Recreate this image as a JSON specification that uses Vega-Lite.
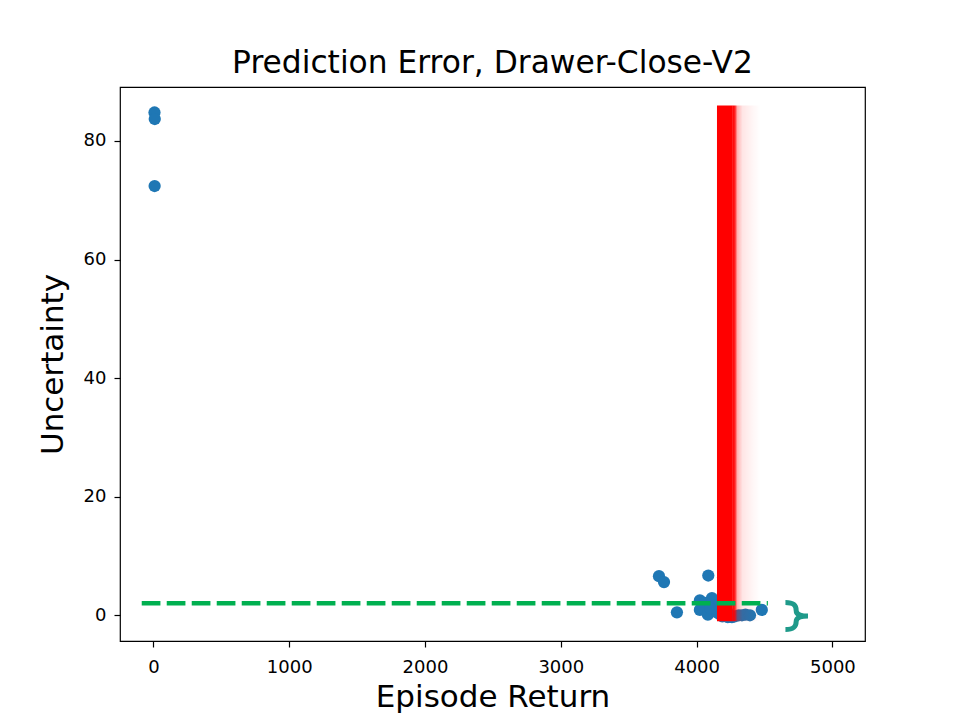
{
  "$schema": "https://vega.github.io/schema/vega-lite/v6.json",
  "autosize": "none",
  "width": 745,
  "height": 554,
  "padding": {"left": 120, "top": 87, "right": 95, "bottom": 80},
  "background": "white",
  "title": {"text": "Prediction Error, Drawer-Close-V2", "font": "DejaVu Sans", "fontSize": 31.3, "fontWeight": "normal", "color": "black", "baseline": "alphabetic", "offset": -17, "anchor": "middle"},
  "config": {
    "view": {"stroke": "black", "strokeWidth": 1.2},
    "axis": {"grid": false, "domain": false, "tickColor": "black", "tickSize": 6, "tickWidth": 1.2, "labelColor": "black", "labelFont": "DejaVu Sans", "labelFontSize": 18, "labelPadding": 8, "titleFont": "DejaVu Sans", "titleFontSize": 31, "titleFontWeight": "normal", "titleColor": "black"}
  },
  "datasets": {
    "points": [
      {"ret": 8, "unc": 84.8}, {"ret": 10, "unc": 83.7}, {"ret": 9, "unc": 72.4},
      {"ret": 3723, "unc": 6.6}, {"ret": 3760, "unc": 5.6}, {"ret": 3855, "unc": 0.5},
      {"ret": 4086, "unc": 6.7}, {"ret": 4195, "unc": 6.4}, {"ret": 4205, "unc": 3.7},
      {"ret": 4024, "unc": 2.5}, {"ret": 4061, "unc": 2.1}, {"ret": 4024, "unc": 0.9},
      {"ret": 4083, "unc": 0.1}, {"ret": 4113, "unc": 2.9}, {"ret": 4135, "unc": 1.7},
      {"ret": 4150, "unc": 0.5}, {"ret": 4170, "unc": 0.2}, {"ret": 4190, "unc": -0.2},
      {"ret": 4230, "unc": -0.3}, {"ret": 4260, "unc": -0.3}, {"ret": 4280, "unc": -0.2},
      {"ret": 4310, "unc": 0.0}, {"ret": 4334, "unc": 0.0}, {"ret": 4360, "unc": 0.1},
      {"ret": 4393, "unc": 0.0}, {"ret": 4480, "unc": 0.9}, {"ret": 4100, "unc": 1.2},
      {"ret": 4230, "unc": 0.4}
    ],
    "band": [{"x": 4150, "x2": 4267, "y": -1, "y2": 86}],
    "fade": [{"x": 4267, "x2": 4470, "y": -1, "y2": 86}],
    "threshold": [{"ret": -86, "unc": 2.03}, {"ret": 4525, "unc": 2.03}],
    "marker": [{"ret": 4739, "unc": -0.12}]
  },
  "layer": [
    {
      "data": {"name": "points"},
      "mark": {"type": "point", "filled": true, "opacity": 1, "size": 150, "color": "#1f77b4", "shape": "circle", "strokeWidth": 0},
      "encoding": {
        "x": {"field": "ret", "type": "quantitative", "scale": {"domain": [-246, 5240], "nice": false, "zero": false}, "axis": {"values": [0, 1000, 2000, 3000, 4000, 5000], "format": "d", "title": "Episode Return", "titlePadding": 6, "labelPadding": 11, "labelFlush": false}},
        "y": {"field": "unc", "type": "quantitative", "scale": {"domain": [-4.34, 89.1], "nice": false, "zero": false}, "axis": {"values": [0, 20, 40, 60, 80], "format": "d", "title": "Uncertainty", "titlePadding": 14, "labelFlush": false}}
      }
    },
    {
      "data": {"name": "band"},
      "mark": {"type": "rect", "color": "#ff0000", "opacity": 1},
      "encoding": {
        "x": {"field": "x", "type": "quantitative"},
        "x2": {"field": "x2"},
        "y": {"field": "y", "type": "quantitative"},
        "y2": {"field": "y2"}
      }
    },
    {
      "data": {"name": "fade"},
      "mark": {"type": "rect", "opacity": 1, "color": {"gradient": "linear", "x1": 0, "x2": 1, "y1": 0, "y2": 0, "stops": [
        {"offset": 0, "color": "rgba(255,0,0,1)"},
        {"offset": 0.08, "color": "rgba(255,0,0,0.85)"},
        {"offset": 0.16, "color": "rgba(255,0,0,0.3)"},
        {"offset": 0.35, "color": "rgba(255,0,0,0.1)"},
        {"offset": 0.7, "color": "rgba(255,0,0,0.04)"},
        {"offset": 1, "color": "rgba(255,0,0,0)"}
      ]}},
      "encoding": {
        "x": {"field": "x", "type": "quantitative"},
        "x2": {"field": "x2"},
        "y": {"field": "y", "type": "quantitative"},
        "y2": {"field": "y2"}
      }
    },
    {
      "data": {"name": "threshold"},
      "mark": {"type": "line", "color": "#00b050", "strokeWidth": 4.5, "strokeDash": [18.7, 6.3]},
      "encoding": {
        "x": {"field": "ret", "type": "quantitative"},
        "y": {"field": "unc", "type": "quantitative"}
      }
    },
    {
      "data": {"name": "marker"},
      "mark": {"type": "point", "filled": false, "size": 1024, "stroke": "#1f9a8a", "strokeWidth": 5, "opacity": 1, "shape": "M-0.72,-0.84 C-0.2,-0.84 -0.05,-0.65 -0.05,-0.35 C-0.05,-0.1 0.2,0 0.69,0 M-0.72,0.84 C-0.2,0.84 -0.05,0.65 -0.05,0.35 C-0.05,0.1 0.2,0 0.69,0"},
      "encoding": {
        "x": {"field": "ret", "type": "quantitative"},
        "y": {"field": "unc", "type": "quantitative"}
      }
    }
  ]
}
